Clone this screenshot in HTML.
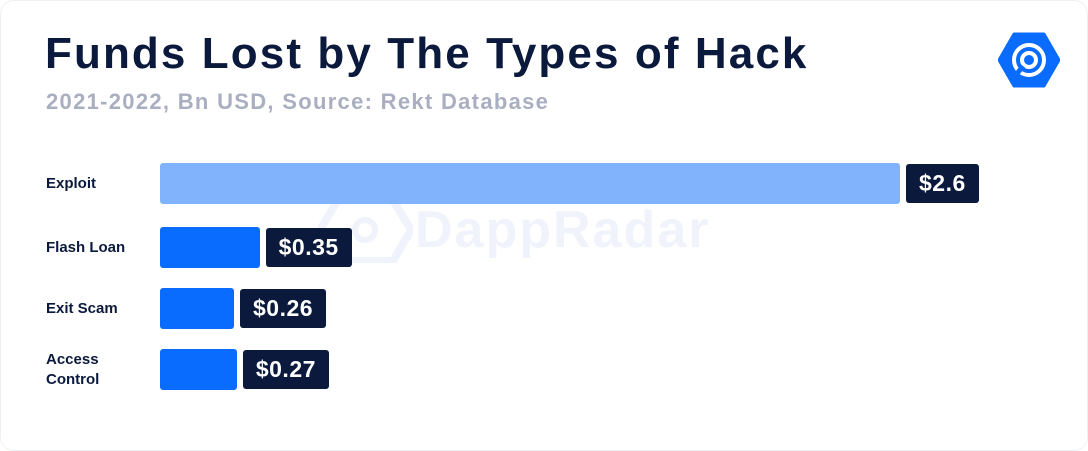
<!DOCTYPE html>
<html><head><meta charset="utf-8"><style>
body{margin:0;width:1088px;height:451px;background:#fff;overflow:hidden;font-family:"Liberation Sans",sans-serif}
#card{position:absolute;left:0;top:0;width:1086px;height:449px;border:1px solid #eef0f4;border-radius:14px}
#title{position:absolute;left:45px;top:29px;font-size:44px;font-weight:bold;color:#0b1a3c;letter-spacing:2.1px}
#sub{position:absolute;left:46px;top:89px;font-size:22px;font-weight:bold;color:#a9afc0;letter-spacing:1.3px}
.cat{position:absolute;left:46px;font-size:15px;font-weight:bold;color:#0b1a3c;line-height:20px}
.bar{position:absolute;border-radius:3px}
.lab{position:absolute;background:#0b1a3c;color:#fff;font-weight:bold;font-size:23px;border-radius:3px;height:39px;line-height:39px;padding:0 13px;letter-spacing:0.5px}
#wm{position:absolute;left:415px;top:200px;font-size:52px;font-weight:bold;color:#f0f3fb;letter-spacing:2px}
</style></head><body>
<div id="card"></div>
<svg style="position:absolute;left:318px;top:198px" width="95" height="65">
<polygon points="20,2 75,2 93,32 75,63 20,63 2,32" fill="none" stroke="#f0f3fb" stroke-width="8"/>
<circle cx="47" cy="32" r="10" fill="none" stroke="#f0f3fb" stroke-width="6"/>
</svg>
<div id="wm">DappRadar</div>
<div id="title">Funds Lost by The Types of Hack</div>
<div id="sub">2021-2022, Bn USD, Source: Rekt Database</div>
<svg style="position:absolute;left:998px;top:32px" width="62" height="56">
<polygon points="16,2 46,2 61,28 46,54 16,54 1,28" fill="#0a6cff" stroke="#0a6cff" stroke-width="3" stroke-linejoin="round"/>
<circle cx="31" cy="28" r="15" fill="none" stroke="#fff" stroke-width="4"/>
<circle cx="31" cy="28" r="7" fill="none" stroke="#fff" stroke-width="4"/>
<line x1="25" y1="34" x2="18" y2="43" stroke="#0a6cff" stroke-width="5"/>
</svg>
<div id="chart"></div>
<script>
const categories=["Exploit","Flash Loan","Exit Scam","Access Control"];
const values=[2.6,0.35,0.26,0.27];
const labels=["$2.6","$0.35","$0.26","$0.27"];
const x0=160, scale=740/2.6;
function xs(v){return v*scale;}
const tops=[163,227,288,349];
const root=document.getElementById('chart');
categories.forEach((c,i)=>{
  const y=tops[i];
  const b=document.createElement('div');
  b.className='bar';
  
  
  const w=xs(values[i]);
  b.style.cssText=`left:${x0}px;top:${y}px;width:${w}px;height:41px;background:${i==0?'#80b3fb':'#0a6cff'}`;
  root.appendChild(b);
  const l=document.createElement('div');
  l.className='lab';
  
  
  l.textContent=labels[i];
  l.style.left=(x0+w+6)+'px';l.style.top=(y+1)+'px';
  root.appendChild(l);
  const t=document.createElement('div');
  t.className='cat';
  
  
  const parts=c=="Access Control"?["Access","Control"]:[c];
  t.innerHTML=parts.join('<br>');
  t.style.top=(y+21-parts.length*10)+'px';
  root.appendChild(t);
});
</script>
</body></html>
